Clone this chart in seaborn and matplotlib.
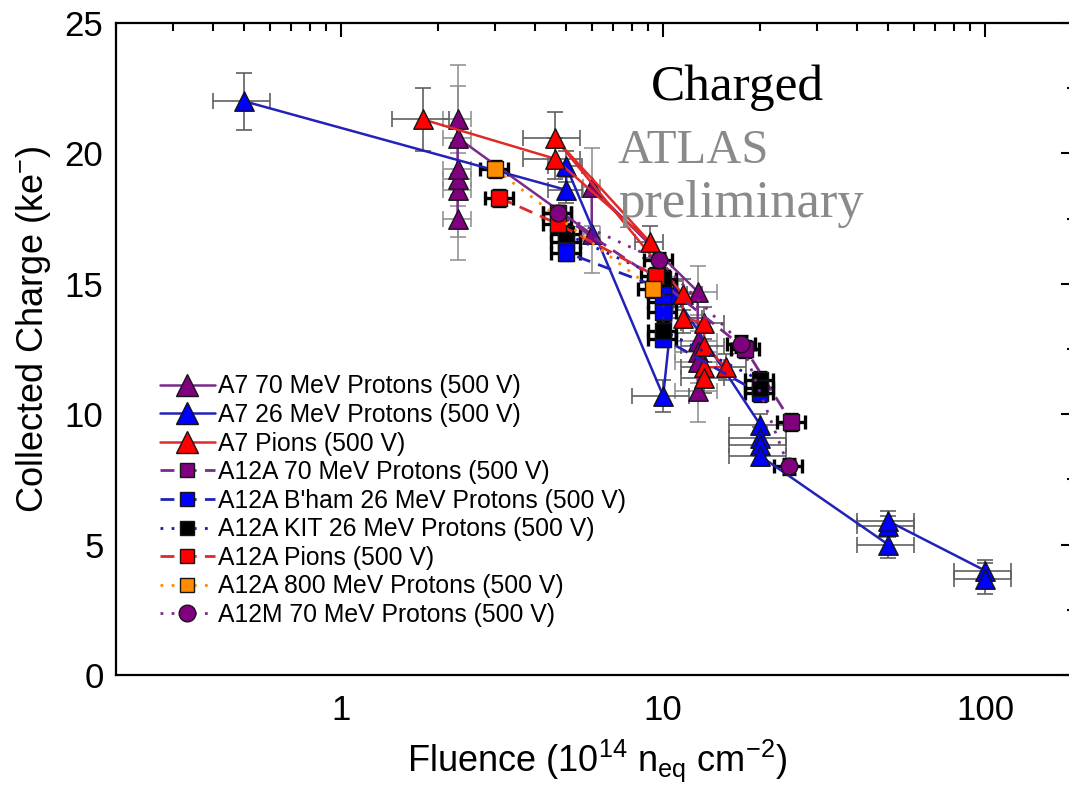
import numpy as np
import pandas as pd
import matplotlib
matplotlib.use("Agg")
import matplotlib.pyplot as plt
import seaborn as sns
from matplotlib.lines import Line2D
from matplotlib.ticker import MultipleLocator, LogLocator, NullFormatter, FixedLocator, FixedFormatter

# ---------------- data ----------------
# A7 70 MeV Protons (500 V)
a7_70_x = [2.3, 2.3, 2.3, 2.3, 2.3, 2.3, 6.0, 6.0, 12.8, 12.8, 12.8, 12.8, 12.8]
a7_70_y = [17.5, 18.6, 19.0, 19.4, 21.3, 20.6, 16.9, 18.7, 14.7, 12.8, 12.4, 12.0, 10.9]
a7_70_yerr = [1.6, 1.8, 1.0, 1.0, 2.1, 2.0, 1.5, 1.5, 1.0, 1.0, 0.8, 0.8, 1.2]
a7_70_xfrac = [0.1, 0.1, 0.1, 0.1, 0.1, 0.1, 0.06, 0.06, 0.15, 0.15, 0.15, 0.15, 0.15]

# A7 26 MeV Protons (500 V)
a7_26_x = [0.5, 5.0, 5.0, 10.0, 10.8, 20.0, 20.0, 20.0, 20.0, 50.0, 50.0, 50.0, 100.0, 100.0]
a7_26_y = [22.0, 18.6, 19.5, 10.7, 14.6, 9.6, 9.1, 8.8, 8.4, 5.0, 5.7, 5.9, 4.0, 3.7]
a7_26_yerr = [1.1, 0.5, 0.6, 0.6, 0.5, 0.4, 0.4, 0.4, 0.4, 0.5, 0.4, 0.4, 0.4, 0.6]
a7_26_xfrac = [0.2, 0.12, 0.12, 0.2, 0.1, 0.2, 0.2, 0.2, 0.2, 0.2, 0.2, 0.2, 0.2, 0.2]

# A7 Pions (500 V)
a7_pi_x = [1.8, 4.6, 9.1, 4.6, 11.5, 11.5, 13.4, 13.4, 15.7, 13.4, 13.4]
a7_pi_y = [21.3, 19.8, 16.6, 20.6, 14.6, 13.7, 13.5, 12.6, 11.8, 11.8, 11.4]
a7_pi_yerr = [1.2, 0.8, 0.6, 1.0, 0.6, 0.6, 0.6, 0.6, 0.5, 0.6, 0.6]
a7_pi_xfrac = [0.2, 0.2, 0.1, 0.2, 0.15, 0.15, 0.15, 0.15, 0.15, 0.15, 0.15]

# A12A 70 MeV Protons (500 V)
a12a_70_x = [4.7, 10.0, 18.0, 25.0]
a12a_70_y = [17.7, 15.0, 12.5, 9.7]

# A12A B'ham 26 MeV Protons (500 V)
a12a_bh_x = [5.0, 5.0, 10.0, 10.0, 10.0, 10.0, 20.0]
a12a_bh_y = [16.6, 16.2, 14.8, 14.3, 13.9, 12.9, 10.8]

# A12A KIT 26 MeV Protons (500 V)
a12a_kit_x = [5.0, 10.0, 10.0, 20.0, 20.0]
a12a_kit_y = [16.9, 15.2, 13.2, 11.3, 11.0]

# A12A Pions (500 V)
a12a_pi_x = [3.1, 4.7, 9.5]
a12a_pi_y = [18.3, 17.3, 15.3]

# A12A 800 MeV Protons (500 V)
a12a_800_x = [3.0, 9.3]
a12a_800_y = [19.4, 14.8]

# A12M 70 MeV Protons (500 V)
a12m_70_x = [4.7, 9.7, 17.5, 24.5]
a12m_70_y = [17.7, 15.9, 12.7, 8.0]

square_yerr = 0.3
square_xfrac = 0.1

labels = ["A7 70 MeV Protons (500 V)", "A7 26 MeV Protons (500 V)", "A7 Pions (500 V)",
          "A12A 70 MeV Protons (500 V)", "A12A B'ham 26 MeV Protons (500 V)",
          "A12A KIT 26 MeV Protons (500 V)", "A12A Pions (500 V)",
          "A12A 800 MeV Protons (500 V)", "A12M 70 MeV Protons (500 V)"]

x_ticks = [1, 10, 100]
x_ticklabels = ["1", "10", "100"]
y_ticks = [0, 5, 10, 15, 20, 25]

# ---------------- styling ----------------
PURPLE = "#800080"
PURPLE_L = "#7a2a8c"
BLUE = "#0000ff"
BLUE_L = "#2222b8"
RED = "#ff0000"
RED_L = "#e02a2a"
ORANGE = "#ff8c00"
NAVY = "#1a1aa8"

series = [
    # x, y, yerr, xfrac, marker, face, linecolor, linestyle, lw, ms, legend ms, errcolor, errlw
    (a7_70_x, a7_70_y, a7_70_yerr, a7_70_xfrac, "^", PURPLE, PURPLE_L, "-", 1.8, 14, 16, "#8c8c8c", 1.1),
    (a7_26_x, a7_26_y, a7_26_yerr, a7_26_xfrac, "^", BLUE, BLUE_L, "-", 1.8, 14, 16, "#606060", 1.2),
    (a7_pi_x, a7_pi_y, a7_pi_yerr, a7_pi_xfrac, "^", RED, RED_L, "-", 1.8, 14, 16, "#606060", 1.2),
    (a12a_70_x, a12a_70_y, None, None, "s", PURPLE, PURPLE_L, (0, (5, 3)), 2.0, 11, 10, "black", 2.4),
    (a12a_bh_x, a12a_bh_y, None, None, "s", BLUE, BLUE_L, (0, (5, 3)), 2.0, 11, 10, "black", 2.4),
    (a12a_kit_x, a12a_kit_y, None, None, "s", "black", NAVY, (0, (1, 3)), 2.0, 11, 10, "black", 2.4),
    (a12a_pi_x, a12a_pi_y, None, None, "s", RED, RED_L, (0, (5, 3)), 2.0, 11, 10, "black", 2.4),
    (a12a_800_x, a12a_800_y, None, None, "s", ORANGE, ORANGE, (0, (1, 3)), 2.0, 11, 10, "black", 2.4),
    (a12m_70_x, a12m_70_y, None, None, "o", PURPLE, PURPLE_L, (0, (1, 3)), 2.0, 12, 12, "black", 2.4),
]

sns.set_theme(style="white")
plt.rcParams['font.family'] = ['Liberation Sans', 'DejaVu Sans']
plt.rcParams['mathtext.fontset'] = 'custom'
plt.rcParams['mathtext.rm'] = 'Liberation Sans'
plt.rcParams['mathtext.it'] = 'Liberation Sans'
plt.rcParams['text.color'] = 'black'
plt.rcParams['axes.labelcolor'] = 'black'
plt.rcParams['xtick.color'] = 'black'
plt.rcParams['ytick.color'] = 'black'

fig = plt.figure(figsize=(10.69, 7.88), dpi=100)
ax = fig.add_axes([116 / 1069, (788 - 675) / 788, (1075 - 116) / 1069, (675 - 23) / 788])
ax.set_xscale("log")
ax.set_xlim(0.2, 190)
ax.set_ylim(0, 25)

handles = []
for i, (xs, ys, ye, xf, mk, face, lc, ls, lw, ms, lms, ec, elw) in enumerate(series):
    xs = np.asarray(xs, float)
    ys = np.asarray(ys, float)
    if ye is None:
        ye = np.full_like(ys, square_yerr)
        xf = np.full_like(xs, square_xfrac)
        cap = 5
    else:
        ye = np.asarray(ye, float)
        xf = np.asarray(xf, float)
        cap = 6
    ax.errorbar(xs, ys, xerr=xs * xf, yerr=ye, fmt="none", ecolor=ec, elinewidth=elw,
                capsize=cap, capthick=elw, zorder=2 + i * 0.1)
    df = pd.DataFrame({"x": xs, "y": ys})
    sns.lineplot(data=df, x="x", y="y", sort=False, estimator=None, errorbar=None,
                 color=lc, linestyle=ls, linewidth=lw, ax=ax, zorder=3 + i * 0.1)
    sns.scatterplot(data=df, x="x", y="y", marker=mk, s=ms ** 2, color=face,
                    edgecolor="#151515", linewidth=1.0, ax=ax, zorder=3.05 + i * 0.1, legend=False)
    handles.append(Line2D([], [], color=lc, linestyle=ls, linewidth=lw, marker=mk,
                          markersize=lms, markerfacecolor=face, markeredgecolor="#151515",
                          markeredgewidth=1.0))

# axes styling
for s in ax.spines.values():
    s.set_color("black")
    s.set_linewidth(1.6)
ax.xaxis.set_major_locator(FixedLocator(x_ticks))
ax.xaxis.set_major_formatter(FixedFormatter(x_ticklabels))
ax.xaxis.set_minor_locator(LogLocator(base=10, subs=np.arange(2, 10)))
ax.xaxis.set_minor_formatter(NullFormatter())
ax.yaxis.set_major_locator(FixedLocator(y_ticks))
ax.yaxis.set_minor_locator(MultipleLocator(2.5))
ax.tick_params(which="both", direction="in", top=True, right=True, color="black", width=1.5)
ax.tick_params(which="major", length=10)
ax.tick_params(which="minor", length=6)
ax.tick_params(axis="x", which="major", labelsize=25, pad=14, labelcolor="black")
ax.tick_params(axis="y", which="major", labelsize=25, pad=9, labelcolor="black")
ax.grid(False)

ax.set_xlabel(r"Fluence (10$^{14}$ n$_{\rm eq}$ cm$^{-2}$)", fontsize=26, color="black")
ax.set_ylabel(r"Collected Charge (ke$^{-}$)", fontsize=26, color="black")
ax.xaxis.set_label_coords(0.502, -0.095)
ax.yaxis.set_label_coords(-0.066, 0.53)

leg = ax.legend(handles, labels, loc="upper left", bbox_to_anchor=(0.046, 0.461),
                frameon=False, fontsize=17.8, handlelength=2.2, handletextpad=0.15,
                labelspacing=0.185, borderpad=0, borderaxespad=0)
for t in leg.get_texts():
    t.set_color("black")

fig.text(737 / 1069, 1 - 100 / 788, "Charged", ha="center", va="baseline",
         fontsize=37, family="Liberation Serif", color="black")
fig.text(618 / 1069, 1 - 163 / 788, "ATLAS", ha="left", va="baseline",
         fontsize=35, family="Liberation Serif", color="#8a8a8a")
fig.text(618 / 1069, 1 - 217 / 788, "preliminary", ha="left", va="baseline",
         fontsize=38, family="Liberation Serif", color="#8a8a8a")

fig.savefig("out.png", dpi=100)
